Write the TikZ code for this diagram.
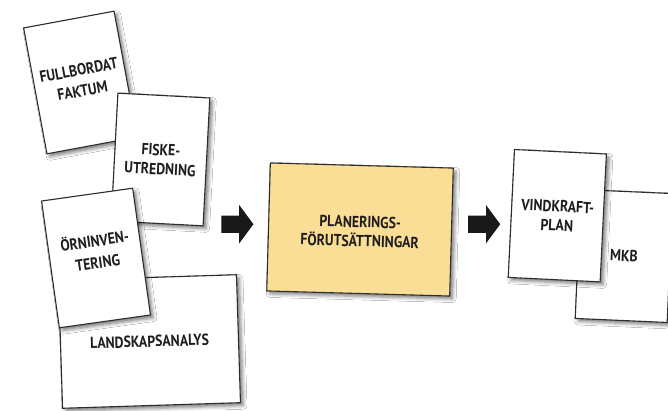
\documentclass[tikz,border=0pt]{standalone}
\usepackage{fontspec}
\setmainfont{PT Sans}[FakeStretch=0.86]
\usepackage{tikz}
\usetikzlibrary{shapes.arrows,shadows.blur}

\definecolor{cardline}{RGB}{45,45,45}
\definecolor{cardink}{RGB}{30,30,30}
\definecolor{planfill}{RGB}{250,222,150}

\begin{document}
\begin{tikzpicture}[x=1pt, y=-1pt,
    card/.style={draw=cardline, line width=1.1pt, fill=white, inner sep=0pt,
        minimum width=92pt, minimum height=128pt,
        blur shadow={shadow xshift=3pt, shadow yshift=-3pt, shadow blur radius=3.5pt, shadow opacity=50}},
    cardlabel/.style={text=cardink, font=\bfseries\fontsize{16}{19}\selectfont, align=center, inner sep=0pt},
    fatarrow/.style={single arrow, fill=black!90, draw=none, inner sep=8.5pt,
        single arrow head extend=10.5pt, single arrow tip angle=107, minimum height=32pt}]

    \path[fill=white] (0,0) rectangle (668,410);
    \useasboundingbox (0,0) rectangle (668,410);

    %% Draw cards
    \node[card, rotate=10.5] (fullbordat) at (80.5,82.5) {};
    \node[card, rotate=-3]   (fiske)      at (160.5,159.5) {};
    \node[card, rotate=1.8, minimum width=178pt] (landskap) at (149.5,341.5) {};
    \node[card, rotate=8]    (orn)        at (96,258) {};
    \node[card, rotate=-1.6, fill=planfill, minimum width=183pt] (plan) at (360,229.5) {};
    \node[card, rotate=-2.5, minimum height=129pt] (mkb) at (624,256) {};
    \node[card, rotate=-2.8] (vindkraft)  at (557.3,215.7) {};

    %% Draw arrows
    \node[fatarrow] (toplan)   at (234.2,224.2) {};
    \node[fatarrow] (fromplan) at (481,224.2) {};

    %% Draw text on cards
    \node[cardlabel, rotate=10.5] (fullbordattext) at ([yshift=2pt]fullbordat.center) {FULLBORDAT\\[2pt]FAKTUM};
    \node[cardlabel, rotate=-3]   (fisketext)      at (fiske.center)    {FISKE-\\UTREDNING};
    \node[cardlabel, rotate=1.8]  (landskaptext)   at (landskap.center) {LANDSKAPSANALYS};
    \node[cardlabel, rotate=8]    (orntext)        at ([yshift=7pt]orn.center) {ÖRNINVEN-\\[3pt]TERING};
    \node[cardlabel, rotate=-1.6] (plantext)       at ([yshift=-2pt]plan.center) {PLANERINGS-\\FÖRUTSÄTTNINGAR};
    \node[cardlabel, rotate=-2.8] (vindkrafttext)  at (vindkraft.center) {VINDKRAFT-\\PLAN};
    \node[cardlabel, rotate=-2.5] (mkbtext)        at (mkb.center)      {MKB};
\end{tikzpicture}
\end{document}
